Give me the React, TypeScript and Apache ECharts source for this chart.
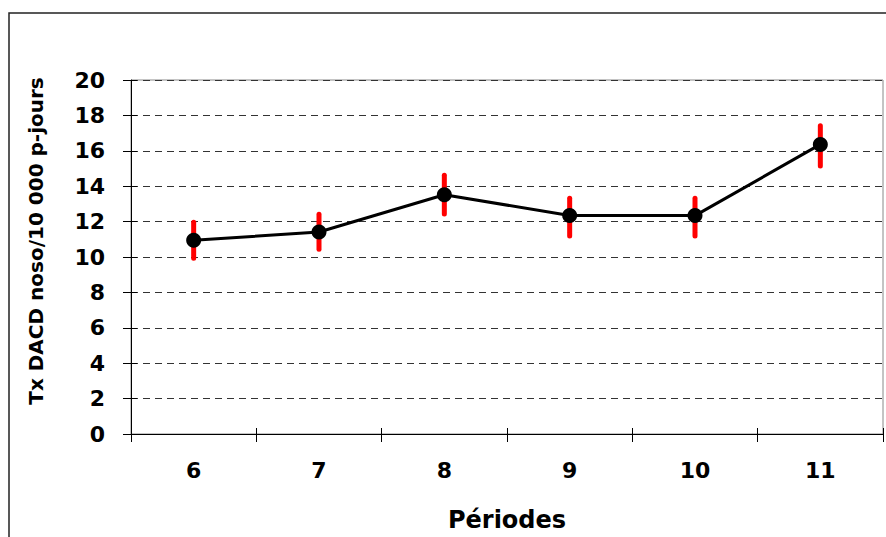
import React, { useEffect, useRef } from "react";
import * as echarts from "echarts";

const periods = ["6", "7", "8", "9", "10", "11"];
const rates = [10.94, 11.41, 13.52, 12.34, 12.34, 16.36];
const lowerCI = [9.85, 10.35, 12.35, 11.1, 11.1, 15.05];
const upperCI = [12.05, 12.5, 14.7, 13.4, 13.4, 17.5];
const yTitle = "Tx DACD noso/10 000 p-jours";
const xTitle = "Périodes";

const FONT = "DejaVu Sans";

export default function App() {
  const ref = useRef<HTMLDivElement>(null);
  useEffect(() => {
    if (!ref.current) return;
    const chart = echarts.init(ref.current, null, { renderer: "svg" });
    const gridLeft = 131;
    const gridTop = 80;
    const gridRight = 3;
    const gridBottom = 100;
    const plotW = 886 - gridLeft - gridRight;
    const plotH = 537 - gridTop - gridBottom;
    const errData = periods.map((_, i) => [i, lowerCI[i], upperCI[i]]);
    chart.setOption({
      animation: false,
      backgroundColor: "#fff",
      grid: {
        left: gridLeft,
        top: gridTop,
        right: gridRight,
        bottom: gridBottom,
        show: true,
        borderColor: "#888",
        borderWidth: 1,
        backgroundColor: "transparent",
      },
      graphic: [
        {
          type: "rect",
          shape: { x: 9, y: 13, width: 900, height: 600 },
          style: { fill: "none", stroke: "#222", lineWidth: 1.5 },
          silent: true,
          z: 100,
        },
        {
          type: "text",
          x: 36,
          y: 241,
          rotation: Math.PI / 2,
          style: {
            text: yTitle,
            fontFamily: FONT,
            fontWeight: "bold",
            fontSize: 20,
            fill: "#000",
            textAlign: "center",
            textVerticalAlign: "middle",
          },
        },
      ],
      xAxis: [
        {
          type: "category",
          data: periods,
          position: "bottom",
          boundaryGap: true,
          axisLine: { show: true, lineStyle: { color: "#000", width: 1 } },
          axisTick: { show: true, inside: false, length: 8, lineStyle: { color: "#000" } },
          axisLabel: {
            margin: 25,
            fontFamily: FONT,
            fontWeight: "bold",
            fontSize: 22,
            color: "#000",
          },
          splitLine: { show: false },
          name: xTitle,
          nameLocation: "middle",
          nameGap: 74,
          nameTextStyle: {
            fontFamily: FONT,
            fontWeight: "bold",
            fontSize: 24,
            color: "#000",
          },
        },
        {
          type: "category",
          data: periods,
          position: "top",
          offset: -plotH,
          boundaryGap: true,
          axisLine: { show: false },
          axisTick: { show: true, inside: false, length: 9, lineStyle: { color: "#000" } },
          axisLabel: { show: false },
          splitLine: { show: false },
        },
      ],
      yAxis: [
        {
          type: "value",
          min: 0,
          max: 20,
          interval: 2,
          position: "left",
          axisLine: { show: true, lineStyle: { color: "#000", width: 1 } },
          axisTick: { show: true, inside: false, length: 8, lineStyle: { color: "#000" } },
          axisLabel: {
            margin: 26,
            fontFamily: FONT,
            fontWeight: "bold",
            fontSize: 22,
            color: "#000",
          },
          splitLine: {
            show: true,
            lineStyle: { color: "#333", width: 1, type: [7, 5] },
          },
        },
        {
          type: "value",
          min: 0,
          max: 20,
          interval: 2,
          position: "right",
          offset: -plotW,
          axisLine: { show: false },
          axisTick: { show: true, inside: false, length: 6, lineStyle: { color: "#000" } },
          axisLabel: { show: false },
          splitLine: { show: false },
        },
      ],
      series: [
        {
          type: "custom",
          xAxisIndex: 0,
          yAxisIndex: 0,
          z: 2,
          data: errData,
          renderItem: (params: any, api: any) => {
            const x = api.value(0);
            const lo = api.coord([x, api.value(1)]);
            const hi = api.coord([x, api.value(2)]);
            return {
              type: "line",
              shape: { x1: lo[0], y1: lo[1] - 1.5, x2: hi[0], y2: hi[1] + 1.5 },
              style: { stroke: "#ff0000", lineWidth: 5, lineCap: "round" },
            };
          },
        },
        {
          type: "line",
          xAxisIndex: 0,
          yAxisIndex: 0,
          z: 5,
          data: rates,
          symbol: "circle",
          symbolSize: 15,
          itemStyle: { color: "#000" },
          lineStyle: { color: "#000", width: 3 },
        },
      ],
    });
    return () => chart.dispose();
  }, []);
  return (
    <div
      ref={ref}
      style={{ position: "fixed", left: 0, top: 0, width: 886, height: 537 }}
    />
  );
}
